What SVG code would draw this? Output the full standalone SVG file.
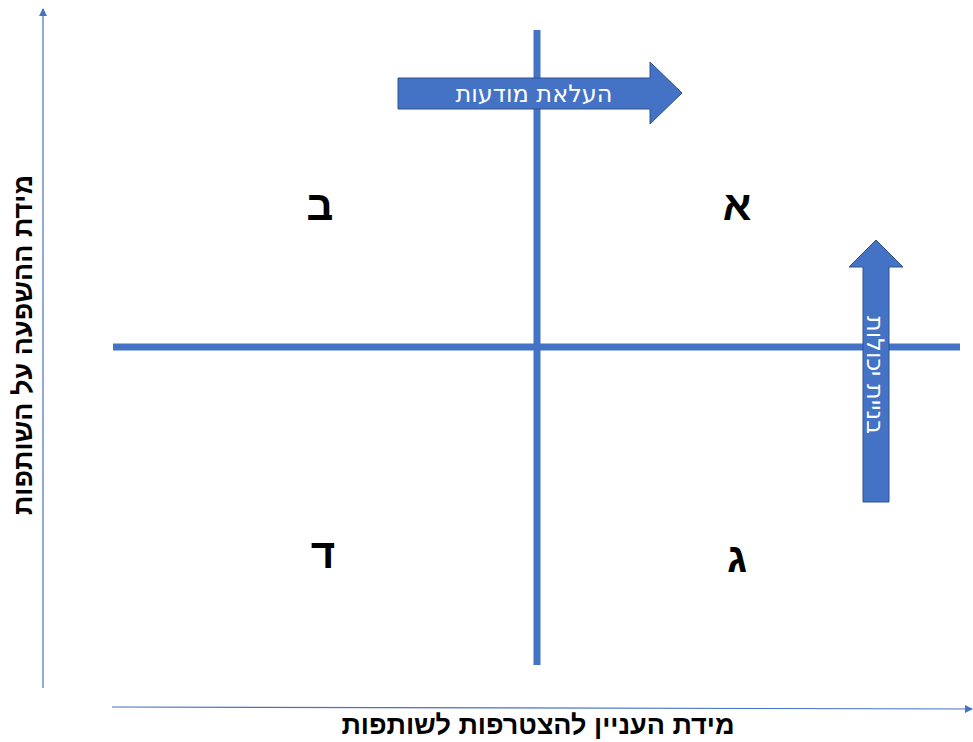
<svg xmlns="http://www.w3.org/2000/svg" width="973" height="742" viewBox="0 0 973 742">
<style>
.axis{stroke:#4472C4;stroke-width:1.2;fill:none}
.bar{stroke:#4472C4;stroke-width:7;fill:none}
.arr{fill:#4472C4;stroke:#2F528F;stroke-width:1}
.lbl{font-family:"Liberation Sans","DejaVu Sans",sans-serif;font-weight:bold;fill:#000}
.q{font-family:"Liberation Sans","DejaVu Sans",sans-serif;font-weight:bold;font-size:42px;fill:#000;text-anchor:middle}
.at{font-family:"DejaVu Sans","Liberation Sans",sans-serif;font-size:24px;fill:#fff;text-anchor:middle}
</style>
<defs>
<marker id="ah" markerWidth="8" markerHeight="8" refX="7" refY="4" orient="auto" markerUnits="userSpaceOnUse">
<path d="M0,0 L8,4 L0,8 Z" fill="#4472C4"/>
</marker>
</defs>
<g id="connectors">
<line class="axis" x1="43" y1="688" x2="43" y2="9" marker-end="url(#ah)"/>
<line class="axis" x1="112" y1="707" x2="972" y2="709" marker-end="url(#ah)"/>
<line class="bar" x1="113" y1="347" x2="960" y2="347"/>
<line class="bar" x1="537" y1="30" x2="537" y2="665"/>
</g>
<g id="arrow-awareness">
<path class="arr" d="M398,78 L650,78 L650,62 L682,93 L650,124 L650,109 L398,109 Z"/>
<text class="at" x="534" y="102">העלאת מודעות</text>
</g>
<g id="arrow-capacity">
<path class="arr" d="M863,502 L863,267 L849,267 L876,240 L903,267 L889,267 L889,502 Z"/>
<text class="at" transform="translate(867,375) rotate(90)" x="0" y="0">בניית יכולות</text>
</g>
<g id="quad-a"><text class="q" x="737" y="220">א</text></g>
<g id="quad-b"><text class="q" x="320" y="220">ב</text></g>
<g id="quad-g"><text class="q" x="737" y="572">ג</text></g>
<g id="quad-d"><text class="q" x="323" y="568">ד</text></g>
<g id="label-y"><text class="lbl" font-size="27" text-anchor="middle" transform="translate(32,345) rotate(-90)">מידת ההשפעה על השותפות</text></g>
<g id="label-x"><text class="lbl" font-size="27" text-anchor="middle" x="538" y="734">מידת העניין להצטרפות לשותפות</text></g>
</svg>
